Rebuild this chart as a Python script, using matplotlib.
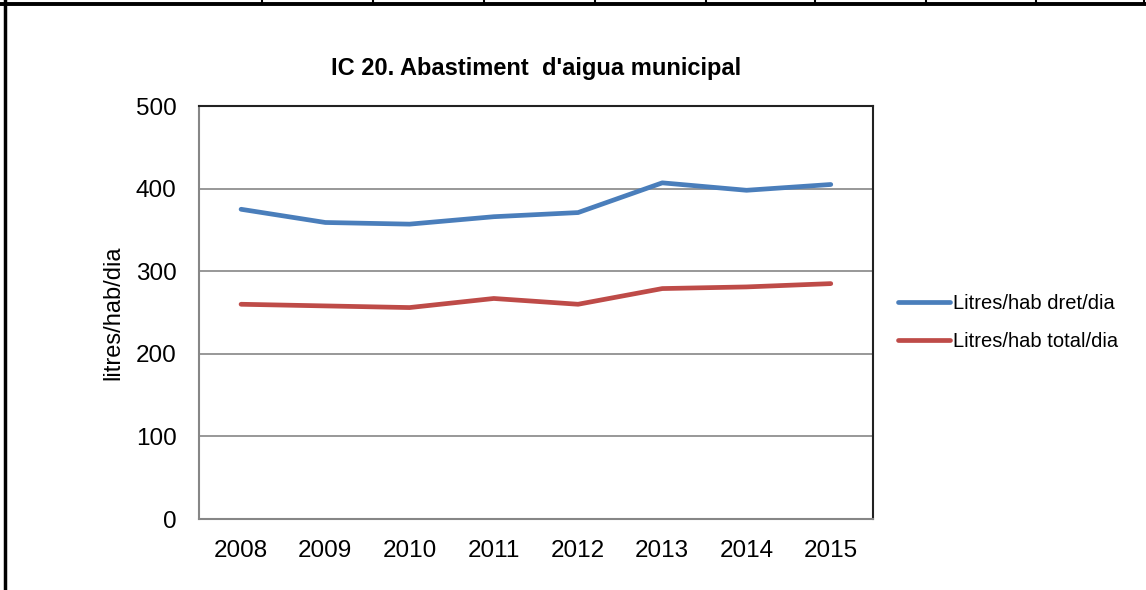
import matplotlib.pyplot as plt
from matplotlib.lines import Line2D

years = ['2008', '2009', '2010', '2011', '2012', '2013', '2014', '2015']
dret = [375, 359, 357, 366, 371, 407, 398, 405]
total = [260, 258, 256, 267, 260, 279, 281, 285]

plt.rcParams['font.family'] = ['Liberation Sans', 'DejaVu Sans']

fig = plt.figure(figsize=(11.46, 5.90), dpi=100)
ax = fig.add_axes([0.1736, 0.1203, 0.5881, 0.7])

x = range(len(years))
ax.plot(x, dret, color='#4A7EBB', lw=3.4, label='Litres/hab dret/dia', solid_capstyle='round')
ax.plot(x, total, color='#BE4B48', lw=3.4, label='Litres/hab total/dia', solid_capstyle='round')

ax.set_xlim(-0.5, len(years) - 0.5)
ax.set_ylim(0, 500)
ax.set_xticks(list(x))
ax.set_xticklabels(years)
ax.set_yticks([0, 100, 200, 300, 400, 500])
ax.tick_params(axis='both', length=0, labelsize=17.5)
ax.tick_params(axis='x', pad=15)
ax.tick_params(axis='y', pad=16)
ax.grid(axis='y', color='#868686', lw=1.2)
ax.set_axisbelow(True)
for s in ['left', 'bottom']:
    ax.spines[s].set_color('#868686')
    ax.spines[s].set_linewidth(1.5)
for s in ['top', 'right']:
    ax.spines[s].set_color('#222222')
    ax.spines[s].set_linewidth(1.5)

ax.set_ylabel('litres/hab/dia', fontsize=17, labelpad=8)
ax.set_title("IC 20. Abastiment  d'aigua municipal", fontsize=17, fontweight='bold', pad=22)

ax.legend(loc='center left', bbox_to_anchor=(1.01, 0.475), frameon=False, fontsize=14.5,
          handlelength=2.6, handletextpad=0.15, labelspacing=0.95)

# frame of the surrounding table
fig.add_artist(Line2D([5 / 1146, 5 / 1146], [0, 1], color='black', lw=2.5))
fig.add_artist(Line2D([0, 1], [1 - 3.5 / 590, 1 - 3.5 / 590], color='black', lw=2.8))
for px in [262, 373, 484, 595, 706, 815, 926, 1036, 1144]:
    fig.add_artist(Line2D([px / 1146, px / 1146], [1 - 3 / 590, 1], color='black', lw=1.5))

fig.savefig('out.png', dpi=100)
